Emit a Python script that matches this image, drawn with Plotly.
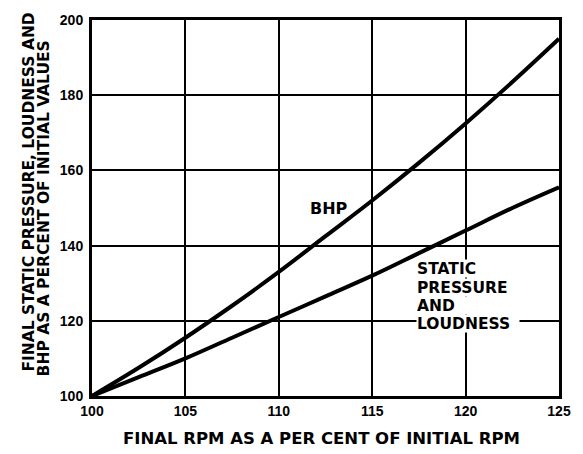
import plotly.graph_objects as go

rpm = [100, 102.5, 105, 107.5, 110, 112.5, 115, 117.5, 120, 122.5, 125]
bhp = [100, 107.5, 115.5, 124, 133, 142.5, 152, 162, 172.5, 183.5, 195]
static_loudness = [100, 105, 110, 115.5, 121, 126.5, 132, 138, 144, 150, 155.5]

x_ticks = [100, 105, 110, 115, 120, 125]
y_ticks = [100, 120, 140, 160, 180, 200]

label_lines = ["STATIC", "PRESSURE", "AND", "LOUDNESS"]
label_y = [133.84, 128.96, 124.08, 119.2]

TICKFONT = "Liberation Sans, Arial, sans-serif"
FONT = "DejaVu Sans, sans-serif"

fig = go.Figure()
fig.add_trace(go.Scatter(x=rpm, y=bhp, mode="lines", line=dict(color="black", width=4, shape="spline"),
                         showlegend=False, hoverinfo="skip"))
fig.add_trace(go.Scatter(x=rpm, y=static_loudness, mode="lines", line=dict(color="black", width=4, shape="spline"),
                         showlegend=False, hoverinfo="skip"))

fig.add_annotation(x=112.68, y=149.9, text="<b>BHP</b>", showarrow=False,
                   font=dict(family=FONT, size=16, color="black"))
for txt, yy in zip(label_lines, label_y):
    fig.add_annotation(x=117.33, y=yy, xanchor="left", yanchor="middle", align="left",
                       text="<b>" + txt + "</b>", showarrow=False, width=102, height=17,
                       bgcolor="white", borderpad=0,
                       font=dict(family=FONT, size=15.5, color="black"))

fig.add_annotation(xref="paper", yref="paper", x=0.4906, y=0, yshift=-42, yanchor="middle",
                   text="<b>FINAL RPM AS A PER CENT OF INITIAL RPM</b>", showarrow=False,
                   font=dict(family=FONT, size=16.5, color="black"))
fig.add_annotation(xref="paper", yref="paper", x=0, xshift=-63, y=0.541, xanchor="center", yanchor="middle",
                   textangle=-90, text="<b>FINAL STATIC PRESSURE, LOUDNESS AND</b>", showarrow=False,
                   font=dict(family=FONT, size=15.5, color="black"))
fig.add_annotation(xref="paper", yref="paper", x=0, xshift=-48, y=0.499, xanchor="center", yanchor="middle",
                   textangle=-90, text="<b>BHP AS A PERCENT OF INITIAL VALUES</b>", showarrow=False,
                   font=dict(family=FONT, size=15.5, color="black"))

fig.update_xaxes(range=[100, 125], tickvals=x_ticks, ticktext=[str(v) for v in x_ticks],
                 showgrid=True, gridcolor="black", gridwidth=2, zeroline=False,
                 showline=True, linecolor="black", linewidth=3, mirror=True, ticks="",
                 tickfont=dict(family=TICKFONT, size=14, color="black", weight="bold"))
fig.update_yaxes(range=[100, 200], tickvals=y_ticks, ticktext=[str(v) for v in y_ticks],
                 showgrid=True, gridcolor="black", gridwidth=2, zeroline=False,
                 showline=True, linecolor="black", linewidth=3, mirror=True, ticks="",
                 ticklabelstandoff=3,
                 tickfont=dict(family=TICKFONT, size=14, color="black", weight="bold"))

fig.update_layout(width=583, height=454, margin=dict(l=92, r=13, t=17, b=58),
                  plot_bgcolor="white", paper_bgcolor="white")

fig.write_html("out.html", config={"displayModeBar": False},
               post_script="document.body.style.margin='0';document.body.style.overflow='hidden';")
